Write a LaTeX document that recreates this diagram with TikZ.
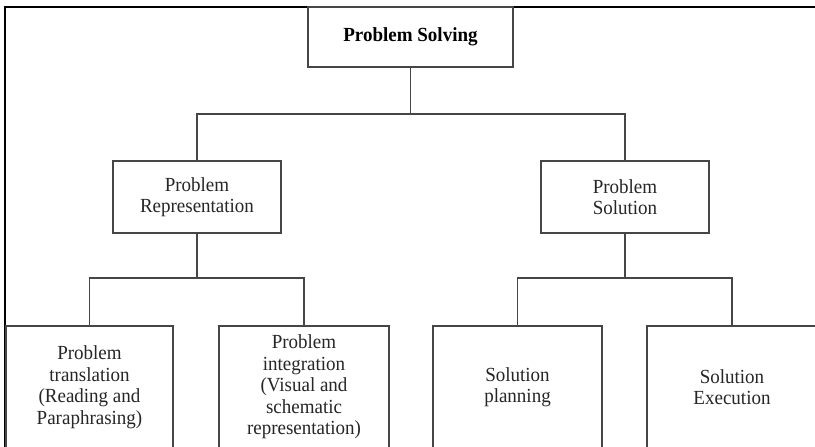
\documentclass[tikz,border=0pt]{standalone}
\usepackage{fontspec}
\setmainfont{Liberation Serif}[FakeStretch=0.95]
\begin{document}
\begin{tikzpicture}[x=1pt,y=-1pt,
  box/.style={draw=boxgrey, line width=1.5pt, align=center, inner sep=0pt,
    text=txtgrey, font=\fontsize{20}{21.5}\selectfont},
  conn/.style={draw=boxgrey, line width=1.5pt},
  frameline/.style={draw=black, line width=2pt}]
\definecolor{boxgrey}{HTML}{464646}
\definecolor{txtgrey}{HTML}{262626}
\useasboundingbox (0,0) rectangle (815,447);
\fill[white] (0,0) rectangle (815,447);
% frame
\draw[frameline] (5,447) -- (5,7) -- (815,7);
% nodes
\node[box, minimum width=205pt, minimum height=60pt, font=\fontsize{20}{21.5}\selectfont\bfseries, text=black] (top) at (410.5,37) {Problem Solving};
\node[box, minimum width=168pt, minimum height=72pt] (rep) at (197,197) {Problem\\Representation};
\node[box, minimum width=168pt, minimum height=72pt] (sol) at (625,197) {Problem\\Solution};
\node[box, minimum width=167pt, minimum height=122pt] (b1) at (89.5,387) {Problem\\translation\\(Reading and\\Paraphrasing)};
\node[box, minimum width=170pt, minimum height=122pt] (b2) at (304,387) {Problem\\integration\\(Visual and\\schematic\\representation)};
\node[box, minimum width=169pt, minimum height=122pt] (b3) at (517.5,387) {Solution\\planning};
\node[box, minimum width=170pt, minimum height=122pt] (b4) at (732,387) {Solution\\Execution};
% junctions
\coordinate (j1) at (410.5,114);
\coordinate (j2) at (197,278);
\coordinate (j3) at (625,278);
% connectors
\draw[conn] (top.south) -- (j1);
\draw[conn] (rep.north) |- (j1) -| (sol.north);
\draw[conn] (rep.south) -- (j2);
\draw[conn] (b1.north) |- (j2) -| (b2.north);
\draw[conn] (sol.south) -- (j3);
\draw[conn] (b3.north) |- (j3) -| (b4.north);
\end{tikzpicture}
\end{document}
